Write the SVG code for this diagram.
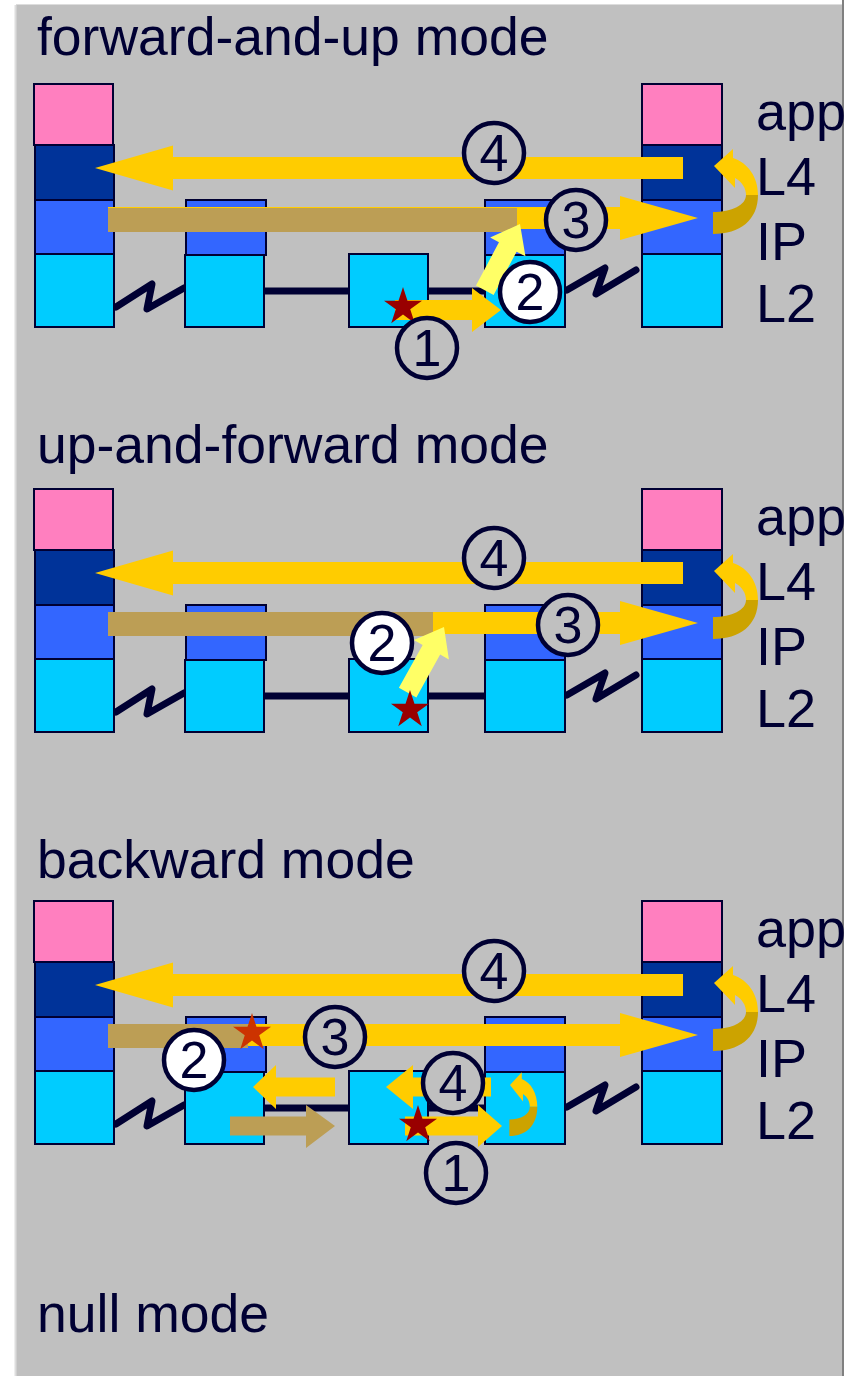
<svg xmlns="http://www.w3.org/2000/svg" xmlns:xlink="http://www.w3.org/1999/xlink" width="846" height="1376" viewBox="0 0 846 1376">
<style>
.t{font-family:"Liberation Sans",Arial,sans-serif;fill:#000033;}
.title{font-size:53.5px;}
.lbl{font-size:54px;}
.num{font-size:52px;text-anchor:middle;}
.app{fill:#FF7FBF;stroke:#000033;stroke-width:2;}
.l4{fill:#003399;stroke:#000033;stroke-width:2;}
.ip{fill:#3366FF;stroke:#000033;stroke-width:2;}
.l2{fill:#00CCFF;stroke:#000033;stroke-width:2;}
.wire{fill:none;stroke:#000033;stroke-width:7;stroke-linejoin:round;}
.zig{fill:none;stroke:#000033;stroke-width:7;stroke-linejoin:round;stroke-linecap:round;}
.ya{fill:#FFCC00;}
.ly{fill:#FFFF66;}
.tan{fill:#BC9E55;}
.cn{fill:#C0C0C0;stroke:#000033;stroke-width:4.5;}
.cw{fill:#FFFFFF;stroke:#000033;stroke-width:4.5;}
</style>
<defs>
<polygon id="star" points="0,-20 4.47,-6.15 19.02,-6.18 7.23,2.35 11.76,16.18 0,7.6 -11.76,16.18 -7.23,2.35 -19.02,-6.18 -4.47,-6.15"/>
<g id="uturn">
<path fill="#FFCC00" d="M44,29 C44,11 34,-3 19,-8 L19,-17 L0,0 L21,22 L21,12 C28,16 32,22 32,29 Z"/>
<path fill="#CCA300" d="M32,29 C32,39 18,46 -1,46 L-1,68 C26,68 44,54 44,29 Z"/>
</g>
<g id="stackL">
<rect class="app" x="34" y="84" width="79" height="61"/>
<rect class="l4" x="35" y="145" width="79" height="55"/>
<rect class="ip" x="35" y="200" width="79" height="54"/>
<rect class="l2" x="35" y="254" width="79" height="73"/>
</g>
<g id="stackR">
<rect class="app" x="642" y="84" width="80" height="61"/>
<rect class="l4" x="642" y="145" width="80" height="55"/>
<rect class="ip" x="642" y="200" width="80" height="54"/>
<rect class="l2" x="642" y="254" width="80" height="73"/>
</g>
<g id="router2">
<rect class="ip" x="186" y="200" width="80" height="55"/>
<rect class="l2" x="185" y="255" width="79" height="72"/>
</g>
<g id="bridge3">
<rect class="l2" x="349" y="254" width="79" height="73"/>
</g>
<g id="router4">
<rect class="ip" x="485" y="200" width="80" height="55"/>
<rect class="l2" x="485" y="255" width="80" height="72"/>
</g>
<g id="links">
<polyline class="zig" points="116,307 152,284 147,309 184,288"/>
<line class="wire" x1="264" y1="291" x2="349" y2="291"/>
<line class="wire" x1="428" y1="291" x2="485" y2="291"/>
<polyline class="zig" points="567,290 605,268 596,294 636,270"/>
</g>
<g id="layerLabels">
<text class="t lbl" x="756" y="130">app</text>
<text class="t lbl" x="756" y="195">L4</text>
<text class="t lbl" x="756" y="260">IP</text>
<text class="t lbl" x="756" y="322">L2</text>
</g>
<polygon id="arrow4" class="ya" points="683,157 173,157 173,145.5 95,168 173,190.5 173,179 683,179"/>
<polygon id="arrow3" class="ya" points="108,207 620,207 620,196 698,218 620,240 620,229 108,229"/>
</defs>

<rect x="0" y="0" width="846" height="1376" fill="#FFFFFF"/>
<rect x="16" y="5" width="826" height="1371" fill="#C0C0C0"/>
<line x1="15.5" y1="5" x2="15.5" y2="1376" stroke="#DDDDDD" stroke-width="2"/>
<line x1="16" y1="4.5" x2="842" y2="4.5" stroke="#DDDDDD" stroke-width="1"/>
<line x1="843" y1="0" x2="843" y2="1376" stroke="#808080" stroke-width="2"/>

<text class="t title" x="37" y="55">forward-and-up mode</text>
<text class="t title" x="37" y="463">up-and-forward mode</text>
<text class="t title" x="37" y="878">backward mode</text>
<text class="t title" x="37" y="1332">null mode</text>

<!-- Panel 1 -->
<g id="panel1">
<g id="p1-connectors"><use xlink:href="#links"/></g>
<g id="p1-hostL"><use xlink:href="#stackL"/></g>
<g id="p1-router2"><use xlink:href="#router2"/></g>
<g id="p1-bridge3"><use xlink:href="#bridge3"/></g>
<g id="p1-router4"><use xlink:href="#router4"/></g>
<g id="p1-hostR"><use xlink:href="#stackR"/></g>
<use xlink:href="#layerLabels"/>
<g id="p1-arrows">
<use xlink:href="#arrow4"/>
<use xlink:href="#arrow3"/>
<rect class="tan" x="108" y="208" width="409" height="24"/>
<polygon class="ya" points="395,300 472,300 472,288 501,310 472,332 472,320 395,320"/>
<use xlink:href="#star" x="403" y="307" fill="#990000"/>
<polygon class="ly" transform="translate(520,224) rotate(-62)" points="-75,-10 -26,-10 -26,-20 0,0 -26,20 -26,10 -75,10"/>
<use xlink:href="#uturn" transform="translate(714,166)"/>
</g>
<g id="p1-steps">
<circle class="cn" cx="494" cy="153" r="30"/><text class="t num" x="494" y="171">4</text>
<circle class="cn" cx="576" cy="220" r="30"/><text class="t num" x="576" y="238">3</text>
<circle class="cw" cx="530" cy="292" r="30"/><text class="t num" x="530" y="310">2</text>
<circle class="cn" cx="427" cy="348" r="30"/><text class="t num" x="427" y="366">1</text>
</g>
</g>

<!-- Panel 2 -->
<g id="panel2" transform="translate(0,405)">
<g id="p2-connectors"><use xlink:href="#links"/></g>
<g id="p2-hostL"><use xlink:href="#stackL"/></g>
<g id="p2-router2"><use xlink:href="#router2"/></g>
<g id="p2-bridge3"><use xlink:href="#bridge3"/></g>
<g id="p2-router4"><use xlink:href="#router4"/></g>
<g id="p2-hostR"><use xlink:href="#stackR"/></g>
<use xlink:href="#layerLabels"/>
<g id="p2-arrows">
<use xlink:href="#arrow4"/>
<use xlink:href="#arrow3"/>
<rect class="tan" x="108" y="207" width="325" height="24"/>
<polygon class="ly" transform="translate(444,222) rotate(-61)" points="-75,-10 -26,-10 -26,-20 0,0 -26,20 -26,10 -75,10"/>
<use xlink:href="#star" x="410" y="305" fill="#990000"/>
<use xlink:href="#uturn" transform="translate(714,166)"/>
</g>
<g id="p2-steps">
<circle class="cn" cx="494" cy="153" r="30"/><text class="t num" x="494" y="171">4</text>
<circle class="cn" cx="568" cy="220" r="30"/><text class="t num" x="568" y="238">3</text>
<circle class="cw" cx="382" cy="238" r="30"/><text class="t num" x="382" y="256">2</text>
</g>
</g>

<!-- Panel 3 -->
<g id="panel3" transform="translate(0,817)">
<g id="p3-connectors"><use xlink:href="#links"/></g>
<g id="p3-hostL"><use xlink:href="#stackL"/></g>
<g id="p3-router2"><use xlink:href="#router2"/></g>
<g id="p3-bridge3"><use xlink:href="#bridge3"/></g>
<g id="p3-router4"><use xlink:href="#router4"/></g>
<g id="p3-hostR"><use xlink:href="#stackR"/></g>
<use xlink:href="#layerLabels"/>
<g id="p3-arrows">
<use xlink:href="#arrow4"/>
<use xlink:href="#arrow3"/>
<rect class="tan" x="108" y="207" width="140" height="24"/>
<use xlink:href="#star" x="252" y="216" fill="#CC3300"/>
<polygon class="ya" points="335,260.5 276,260.5 276,248 253,270 276,292 276,279.5 335,279.5"/>
<polygon class="tan" points="230,299.5 306,299.5 306,288 335,309 306,331 306,318.5 230,318.5"/>
<polygon class="ya" points="491,260.5 413,260.5 413,248 386,270 413,292 413,279.5 491,279.5"/>
<polygon class="ya" points="405,299.5 478,299.5 478,288 502,309 478,330 478,318.5 405,318.5"/>
<use xlink:href="#star" x="418" y="308" fill="#990000"/>
<use xlink:href="#uturn" transform="translate(510,268) scale(0.62,0.75)"/>
<use xlink:href="#uturn" transform="translate(714,166)"/>
</g>
<g id="p3-steps">
<circle class="cn" cx="494" cy="154" r="30"/><text class="t num" x="494" y="172">4</text>
<circle class="cn" cx="335" cy="220" r="30"/><text class="t num" x="335" y="238">3</text>
<circle class="cw" cx="194" cy="243" r="30"/><text class="t num" x="194" y="261">2</text>
<circle class="cn" cx="453" cy="266" r="30"/><text class="t num" x="453" y="284">4</text>
<circle class="cn" cx="456" cy="356" r="30"/><text class="t num" x="456" y="374">1</text>
</g>
</g>
</svg>
